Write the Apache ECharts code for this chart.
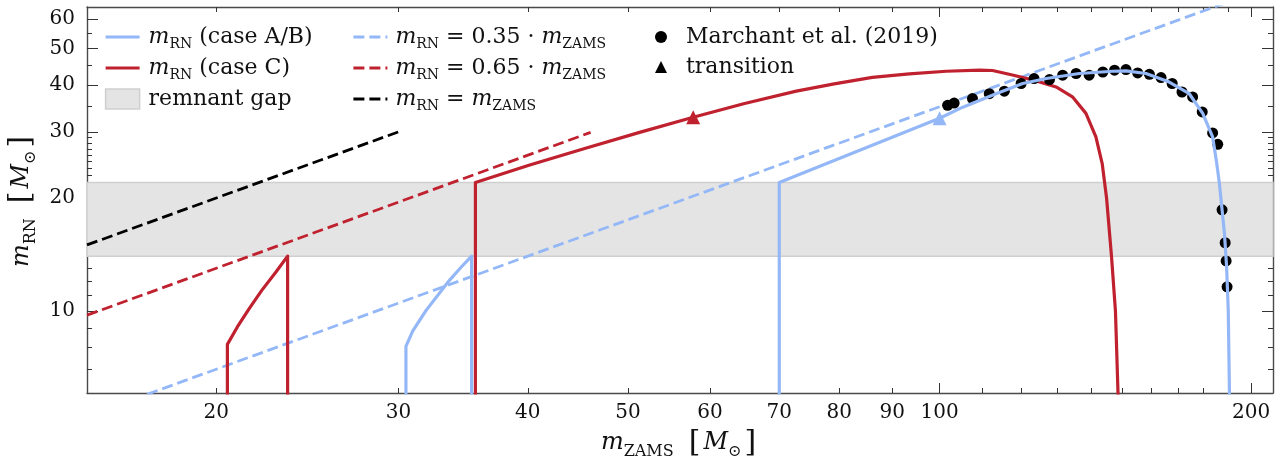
<!DOCTYPE html>
<html>
<head>
<meta charset="utf-8">
<script src="https://cdn.jsdelivr.net/npm/echarts@6/dist/echarts.min.js"></script>
<style>
  html, body { margin: 0; padding: 0; background: #ffffff; }
  #chart { width: 1287px; height: 463px; }
</style>
</head>
<body>
<div id="chart"></div>
<script>
// ---------------- data ----------------
// value used where no remnant forms: the curve drops below the visible range
const NO_REMNANT = 5.5;

// axis ranges and ticks (log-log)
const X_MIN = 15, X_MAX = 210;
const Y_MIN = 6.05, Y_MAX = 64.5;
const X_LABELS = [20, 30, 40, 50, 60, 70, 80, 90, 100, 200];
const X_TICKS_MINOR = [20, 30, 40, 50, 60, 70, 80, 90, 110, 120, 130, 140, 150, 160, 170, 180, 190];
const X_TICKS_MAJOR = [100, 200];
const Y_LABELS = [10, 20, 30, 40, 50, 60];
const Y_TICKS_MINOR = [7, 8, 9, 11, 12, 13, 14, 15, 16, 17, 18, 19, 21, 22, 23, 24, 25, 26, 27, 28, 29, 35, 45, 55];
const Y_TICKS_MAJOR = [10, 20, 30, 40, 50, 60];

// remnant gap (lower, upper edge)
const GAP = [14, 22];

// m_RN (case A/B): low-mass branch and high-mass branch
const AB_LOW_X = [30.5, 30.5, 30.97, 31.9, 33.6, 34.5, 35.3, 35.3];
const AB_LOW_Y = [NO_REMNANT, 8.05, 8.85, 10.04, 12.07, 13.1, 14.0, NO_REMNANT];
const AB_HIGH_X = [70.0, 70.0, 100.0, 105.3, 113.4, 120.3, 126.8, 136.5, 147.0, 151.4, 158.3, 166.7, 174.3, 179.6, 183.6, 185.3, 186.4, 188.5, 189.4, 190.1, 190.7];
const AB_HIGH_Y = [NO_REMNANT, 22.0, 32.6, 34.9, 37.9, 40.35, 41.6, 42.9, 43.5, 43.6, 42.9, 40.7, 37.9, 33.6, 29.1, 24.7, 21.85, 16.07, 13.1, 10.04, NO_REMNANT];

// m_RN (case C): low-mass branch and high-mass branch
const C_LOW_X = [20.5, 20.5, 20.96, 21.52, 22.13, 22.84, 23.44, 23.44];
const C_LOW_Y = [NO_REMNANT, 8.15, 9.07, 10.15, 11.35, 12.7, 14.0, NO_REMNANT];
const C_HIGH_X = [35.6, 35.6, 40.1, 45.4, 51.3, 57.8, 64.8, 72.7, 79.1, 86.1, 93.5, 101.5, 109.3, 112.5, 117.6, 124.0, 129.6, 134.4, 138.5, 141.6, 143.6, 145.0, 146.6, 147.9, 148.5, 148.9];
const C_HIGH_Y = [NO_REMNANT, 22.0, 24.45, 27.1, 29.9, 32.8, 35.7, 38.5, 40.25, 41.9, 42.8, 43.5, 43.8, 43.7, 42.5, 41.0, 39.5, 37.2, 33.6, 29.1, 24.7, 20.0, 14.0, 10.0, 7.0, NO_REMNANT];

// reference lines m_RN = k * m_ZAMS (end points)
const RATIO_035_X = [15, 210];
const RATIO_035_Y = [5.25, 73.5];
const RATIO_065_X = [15, 46];
const RATIO_065_Y = [9.75, 29.9];
const RATIO_100_X = [15, 30];
const RATIO_100_Y = [15, 30];

// Marchant et al. (2019) models
const MARCHANT_X = [101.8, 103.3, 107.6, 111.7, 115.5, 119.9, 123.4, 127.7, 131.5, 135.5, 139.5, 143.8, 147.6, 151.4, 155.4, 159.5, 163.7, 167.8, 171.5, 175.6, 179.4, 183.6, 185.7, 187.5, 188.8, 189.2, 189.6];
const MARCHANT_Y = [35.3, 35.8, 36.8, 37.9, 38.5, 40.35, 41.6, 41.35, 42.45, 42.9, 42.45, 43.3, 43.8, 43.95, 43.05, 42.7, 41.85, 40.35, 38.3, 37.15, 33.9, 29.8, 27.8, 18.6, 15.2, 13.6, 11.6];

// transition points (case C, case A/B)
const TRANSITION_X = [57.8, 100.0];
const TRANSITION_Y = [32.8, 32.6];

// ---------------- styling ----------------
const BLUE = '#94b8f7';
const RED = '#c0212f';
const BLACK = '#000000';
const GAP_FILL = '#e4e4e4';
const GAP_EDGE = '#cfcfcf';
const FRAME = '#4a4a4a';
const TEXT = '#111111';
const SERIF = "'DejaVu Serif', 'DejaVu Sans', serif";
const SOLID_W = 3.2, DASH_W = 2.8, DASH = [11, 5];

const pts = (xs, ys) => xs.map((x, i) => [x, ys[i]]);

const legendRich = {
  i: { fontFamily: SERIF, fontStyle: 'italic', fontSize: 22, lineHeight: 28, verticalAlign: 'middle', color: TEXT },
  s: { fontFamily: SERIF, fontSize: 14, lineHeight: 16, verticalAlign: 'bottom', color: TEXT },
  t: { fontFamily: SERIF, fontSize: 22, lineHeight: 28, verticalAlign: 'middle', color: TEXT }
};
const nameRich = {
  i: { fontFamily: SERIF, fontStyle: 'italic', fontSize: 24, lineHeight: 34, verticalAlign: 'middle', color: TEXT },
  s: { fontFamily: SERIF, fontSize: 16, lineHeight: 18, verticalAlign: 'bottom', color: TEXT },
  b: { fontFamily: SERIF, fontSize: 30, lineHeight: 34, verticalAlign: 'middle', color: TEXT, padding: [0, 3, 0, 3] },
  w: { fontFamily: SERIF, fontSize: 24, lineHeight: 34, verticalAlign: 'middle', color: TEXT, width: 12 }
};

const LEGEND_TEXT = {
  'caseAB': '{i|m}{s|RN}{t| (case A/B)}',
  'caseC': '{i|m}{s|RN}{t| (case C)}',
  'gap': '{t|remnant gap}',
  'r035': '{i|m}{s|RN}{t| = 0.35 · }{i|m}{s|ZAMS}',
  'r065': '{i|m}{s|RN}{t| = 0.65 · }{i|m}{s|ZAMS}',
  'r100': '{i|m}{s|RN}{t| = }{i|m}{s|ZAMS}',
  'marchant': '{t|Marchant et al. (2019)}',
  'transition': '{t|transition}'
};

// main: draws the frame line; labelled: carries tick labels and the axis title
function xAxis(position, ticks, len, main, labelled) {
  return {
    type: 'log', logBase: 10, min: X_MIN, max: X_MAX, position: position,
    gridIndex: 0,
    name: labelled ? '{i|m}{s|ZAMS}{w| }{b|[}{i|M}{s|⊙}{b|]}' : '',
    nameLocation: 'middle', nameGap: 29,
    nameTextStyle: { rich: nameRich },
    axisLine: { show: main, onZero: false, lineStyle: { color: FRAME, width: 1.4 } },
    axisTick: { show: true, inside: true, length: len, customValues: ticks, lineStyle: { color: '#333', width: 1 } },
    axisLabel: labelled
      ? { show: true, customValues: X_LABELS, formatter: v => String(Math.round(v)), margin: 10,
          fontFamily: SERIF, fontSize: 20, color: TEXT }
      : { show: false },
    splitLine: { show: false }, minorTick: { show: false }, minorSplitLine: { show: false }
  };
}
function yAxis(position, ticks, len, main, labelled) {
  return {
    type: 'log', logBase: 10, min: Y_MIN, max: Y_MAX, position: position,
    gridIndex: 0,
    name: labelled ? '{i|m}{s|RN}{w| }{b|[}{i|M}{s|⊙}{b|]}' : '',
    nameLocation: 'middle', nameGap: 44, nameRotate: 90,
    nameTextStyle: { rich: nameRich },
    axisLine: { show: main, onZero: false, lineStyle: { color: FRAME, width: 1.4 } },
    axisTick: { show: true, inside: true, length: len, customValues: ticks, lineStyle: { color: '#333', width: 1 } },
    axisLabel: labelled
      ? { show: true, customValues: Y_LABELS, formatter: v => String(Math.round(v)), margin: 12,
          fontFamily: SERIF, fontSize: 20, color: TEXT }
      : { show: false },
    splitLine: { show: false }, minorTick: { show: false }, minorSplitLine: { show: false }
  };
}

function lineSeries(name, data, color, dashed) {
  return {
    type: 'line', name: name, data: data, xAxisIndex: 0, yAxisIndex: 0,
    symbol: 'none', clip: true, silent: true,
    lineStyle: { color: color, width: dashed ? DASH_W : SOLID_W, type: dashed ? DASH : 'solid', cap: 'butt', join: 'round' },
    itemStyle: { color: color },
    z: dashed ? 3 : 4
  };
}

const legendCommon = {
  orient: 'vertical', padding: 0, selectedMode: false,
  formatter: name => LEGEND_TEXT[name]
};

const option = {
  animation: false,
  backgroundColor: '#ffffff',
  grid: { left: 87, right: 14, top: 7, height: 386, containLabel: false, outerBoundsMode: 'none' },
  xAxis: [
    xAxis('bottom', X_TICKS_MINOR, 5, true, true),
    xAxis('bottom', X_TICKS_MAJOR, 10, false, false),
    xAxis('top', X_TICKS_MINOR, 5, true, false),
    xAxis('top', X_TICKS_MAJOR, 10, false, false)
  ],
  yAxis: [
    yAxis('left', Y_TICKS_MINOR, 5, true, true),
    yAxis('left', Y_TICKS_MAJOR, 11, false, false),
    yAxis('right', Y_TICKS_MINOR, 5, true, false),
    yAxis('right', Y_TICKS_MAJOR, 11, false, false)
  ],
  legend: [
    Object.assign({}, legendCommon, {
      left: 104, top: 26, itemWidth: 34, itemHeight: 20, itemGap: 6,
      itemStyle: { opacity: 0 },
      lineStyle: { width: SOLID_W },
      textStyle: { rich: legendRich, padding: [0, 0, 0, 4] },
      data: [
        { name: 'caseAB' },
        { name: 'caseC' },
        { name: 'gap', icon: 'rect', itemStyle: { color: GAP_FILL, borderColor: GAP_EDGE, borderWidth: 1.5, opacity: 1 } }
      ]
    }),
    Object.assign({}, legendCommon, {
      left: 352, top: 26, itemWidth: 34, itemHeight: 20, itemGap: 6,
      itemStyle: { opacity: 0 },
      lineStyle: { width: DASH_W, type: DASH },
      textStyle: { rich: legendRich, padding: [0, 0, 0, 3] },
      data: [{ name: 'r035' }, { name: 'r065' }, { name: 'r100' }]
    }),
    Object.assign({}, legendCommon, {
      left: 655, top: 26, itemWidth: 12, itemHeight: 12, itemGap: 8,
      textStyle: { rich: legendRich, padding: [0, 0, 0, 14] },
      data: [
        { name: 'marchant', icon: 'circle', itemStyle: { color: BLACK, opacity: 1 } },
        { name: 'transition', icon: 'triangle', itemStyle: { color: BLACK, opacity: 1 } }
      ]
    })
  ],
  series: [
    {
      type: 'line', name: 'gap', data: [], xAxisIndex: 0, yAxisIndex: 0, symbol: 'none', silent: true,
      itemStyle: { color: GAP_FILL },
      markArea: {
        silent: true,
        itemStyle: { color: GAP_FILL, borderColor: GAP_EDGE, borderWidth: 1.5, opacity: 1 },
        data: [[{ yAxis: GAP[0] }, { yAxis: GAP[1] }]]
      },
      z: 1
    },
    lineSeries('r035', pts(RATIO_035_X, RATIO_035_Y), BLUE, true),
    lineSeries('r065', pts(RATIO_065_X, RATIO_065_Y), RED, true),
    lineSeries('r100', pts(RATIO_100_X, RATIO_100_Y), BLACK, true),
    lineSeries('caseC', pts(C_LOW_X, C_LOW_Y), RED, false),
    lineSeries('caseC', pts(C_HIGH_X, C_HIGH_Y), RED, false),
    {
      type: 'scatter', name: 'marchant', data: pts(MARCHANT_X, MARCHANT_Y),
      xAxisIndex: 0, yAxisIndex: 0, symbol: 'circle', symbolSize: 11, silent: true,
      itemStyle: { color: BLACK, opacity: 1 }, z: 5
    },
    lineSeries('caseAB', pts(AB_LOW_X, AB_LOW_Y), BLUE, false),
    Object.assign(lineSeries('caseAB', pts(AB_HIGH_X, AB_HIGH_Y), BLUE, false), { z: 6 }),
    {
      type: 'scatter', name: 'transition',
      data: pts(TRANSITION_X, TRANSITION_Y).map((p, i) => ({ value: p, itemStyle: { color: i === 0 ? RED : BLUE } })),
      xAxisIndex: 0, yAxisIndex: 0, symbol: 'triangle', symbolSize: 14, silent: true,
      itemStyle: { color: BLACK, opacity: 1 }, z: 7
    }
  ]
};

const chart = echarts.init(document.getElementById('chart'), null, { renderer: 'canvas' });
chart.setOption(option);
</script>
</body>
</html>
